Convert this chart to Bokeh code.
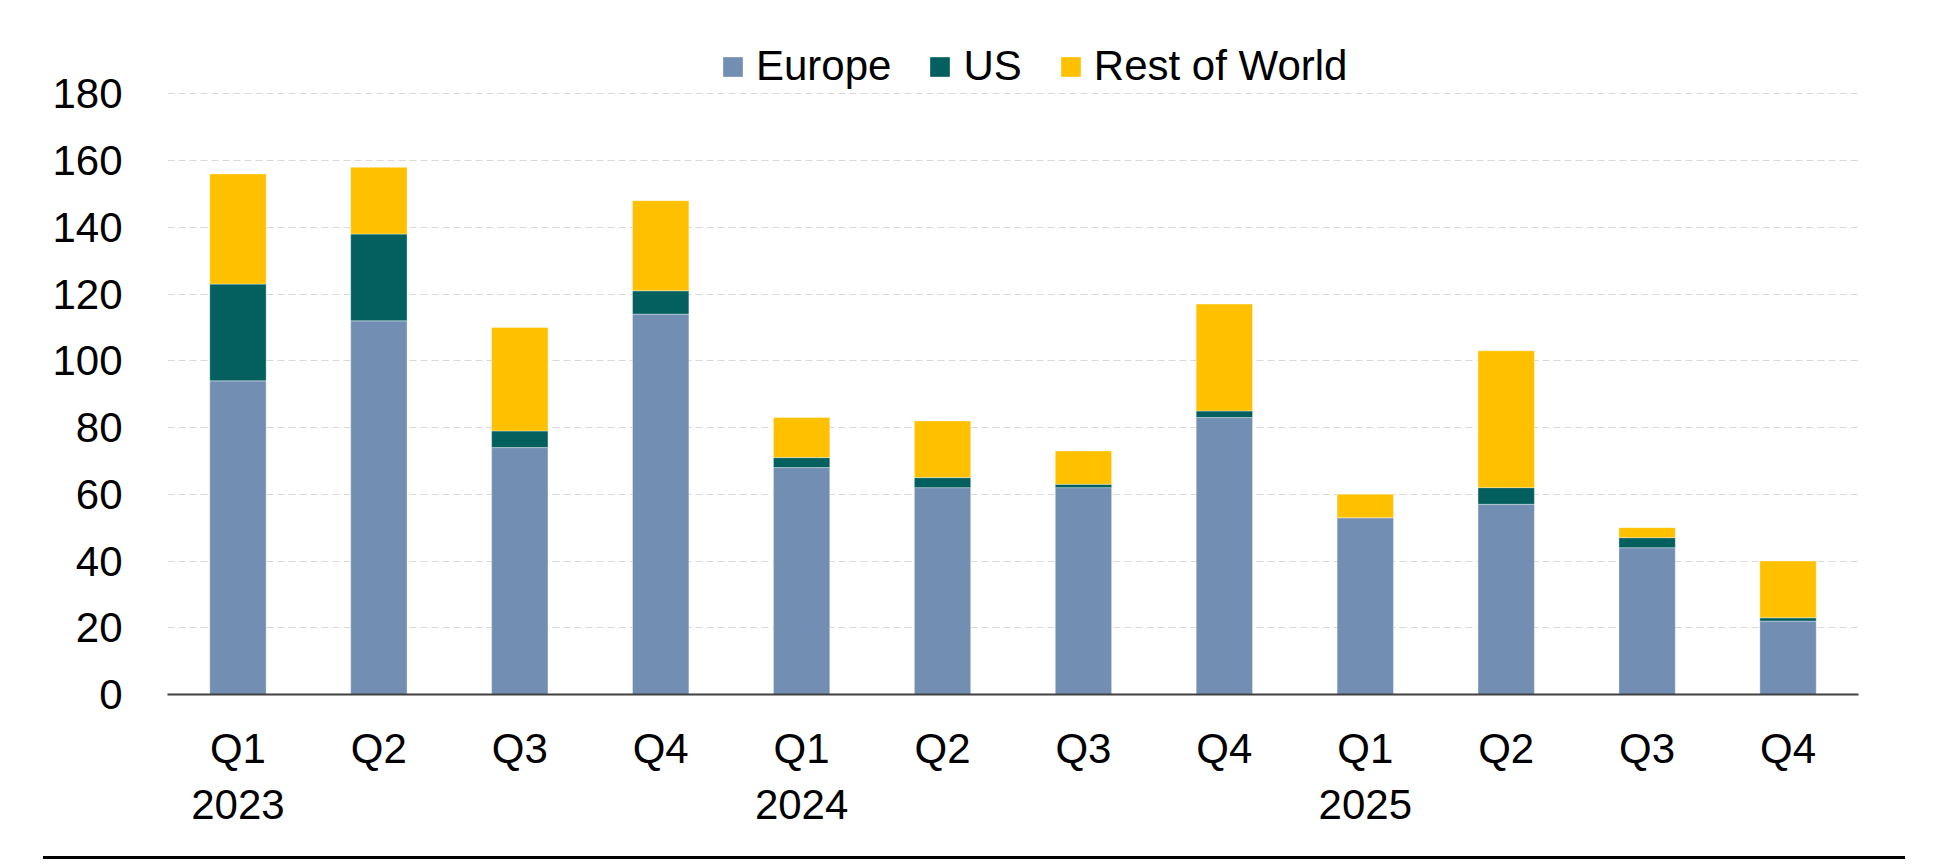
from bokeh.plotting import figure
from bokeh.models import (ColumnDataSource, Range1d, Legend, LegendItem,
                          FixedTicker, Div)
from bokeh.layouts import column
from bokeh.embed import file_html
from bokeh.resources import INLINE

# Quarterly volumes by region
quarters = ["Q1", "Q2", "Q3", "Q4", "Q1", "Q2", "Q3", "Q4", "Q1", "Q2", "Q3", "Q4"]
years = ["2023", "2023", "2023", "2023", "2024", "2024", "2024", "2024",
         "2025", "2025", "2025", "2025"]
europe = [94, 112, 74, 114, 68, 62, 62, 83, 53, 57, 44, 22]
us = [29, 26, 5, 7, 3, 3, 1, 2, 0, 5, 3, 1]
rest_of_world = [33, 20, 31, 27, 12, 17, 10, 32, 7, 41, 3, 17]
y_ticks = [0, 20, 40, 60, 80, 100, 120, 140, 160, 180]

series = ["Europe", "US", "Rest of World"]
colors = ["#728FB3", "#03605F", "#FFC000"]
FONT = "Liberation Sans"
FONT_SIZE = "42px"

# the frame reaches above the top tick so the legend can sit over the 180 line
Y_MAX = 202
FRAME_W, FRAME_H = 1691, 674

positions = list(range(len(quarters)))
# year shown under the first quarter of each year
labels = {i: (f"{q}\n{y}" if q == "Q1" else q) for i, q, y in zip(positions, quarters, years)}

source = ColumnDataSource(dict(x=positions, **{"Europe": europe, "US": us,
                                               "Rest of World": rest_of_world}))

p = figure(x_range=Range1d(-0.5, len(quarters) - 0.5), y_range=Range1d(0, Y_MAX),
           frame_width=FRAME_W, frame_height=FRAME_H,
           output_backend="svg", toolbar_location=None,
           min_border_left=167, min_border_right=88, min_border_top=20,
           min_border_bottom=157)

renderers = p.vbar_stack(series, x="x", width=0.4, source=source, color=colors,
                         line_color="white", line_width=0.6, line_alpha=0.6)

legend = Legend(items=[LegendItem(label=s, renderers=[r]) for s, r in zip(series, renderers)],
                orientation="horizontal", location=(553, 604))
legend.label_text_font = FONT
legend.label_text_font_size = FONT_SIZE
legend.label_text_color = "#000000"
legend.glyph_width = 25
legend.glyph_height = 25
legend.label_standoff = 11
legend.spacing = 36
legend.padding = 0
legend.margin = 0
legend.border_line_color = None
legend.background_fill_alpha = 0
p.add_layout(legend)

p.outline_line_color = None
p.background_fill_color = "white"
p.border_fill_color = "white"

p.xgrid.grid_line_color = None
p.ygrid.grid_line_color = "#D9D9D9"
p.ygrid.grid_line_dash = "7 4"
p.ygrid.grid_line_width = 1.2

p.yaxis.ticker = FixedTicker(ticks=y_ticks)
p.yaxis.axis_line_color = None
p.yaxis.major_tick_line_color = None
p.yaxis.minor_tick_line_color = None
p.yaxis.major_label_standoff = 39
p.yaxis.major_label_text_font = FONT
p.yaxis.major_label_text_font_size = FONT_SIZE
p.yaxis.major_label_text_color = "#000000"

p.xaxis.ticker = FixedTicker(ticks=positions)
p.xaxis.axis_line_color = "#404040"
p.xaxis.axis_line_width = 2
p.xaxis.major_tick_line_color = None
p.xaxis.minor_tick_line_color = None
p.xaxis.major_label_standoff = 24
p.xaxis.major_label_overrides = labels
p.xaxis.major_label_text_font = FONT
p.xaxis.major_label_text_font_size = FONT_SIZE
p.xaxis.major_label_text_color = "#000000"
p.xaxis.major_label_text_line_height = 1.2

rule = Div(text="", width=1862, height=3,
           styles={"border-top": "3px solid #000000", "margin-left": "43px"})

layout = column(p, rule, spacing=0)

open("out.html", "w").write(file_html(layout, INLINE))
